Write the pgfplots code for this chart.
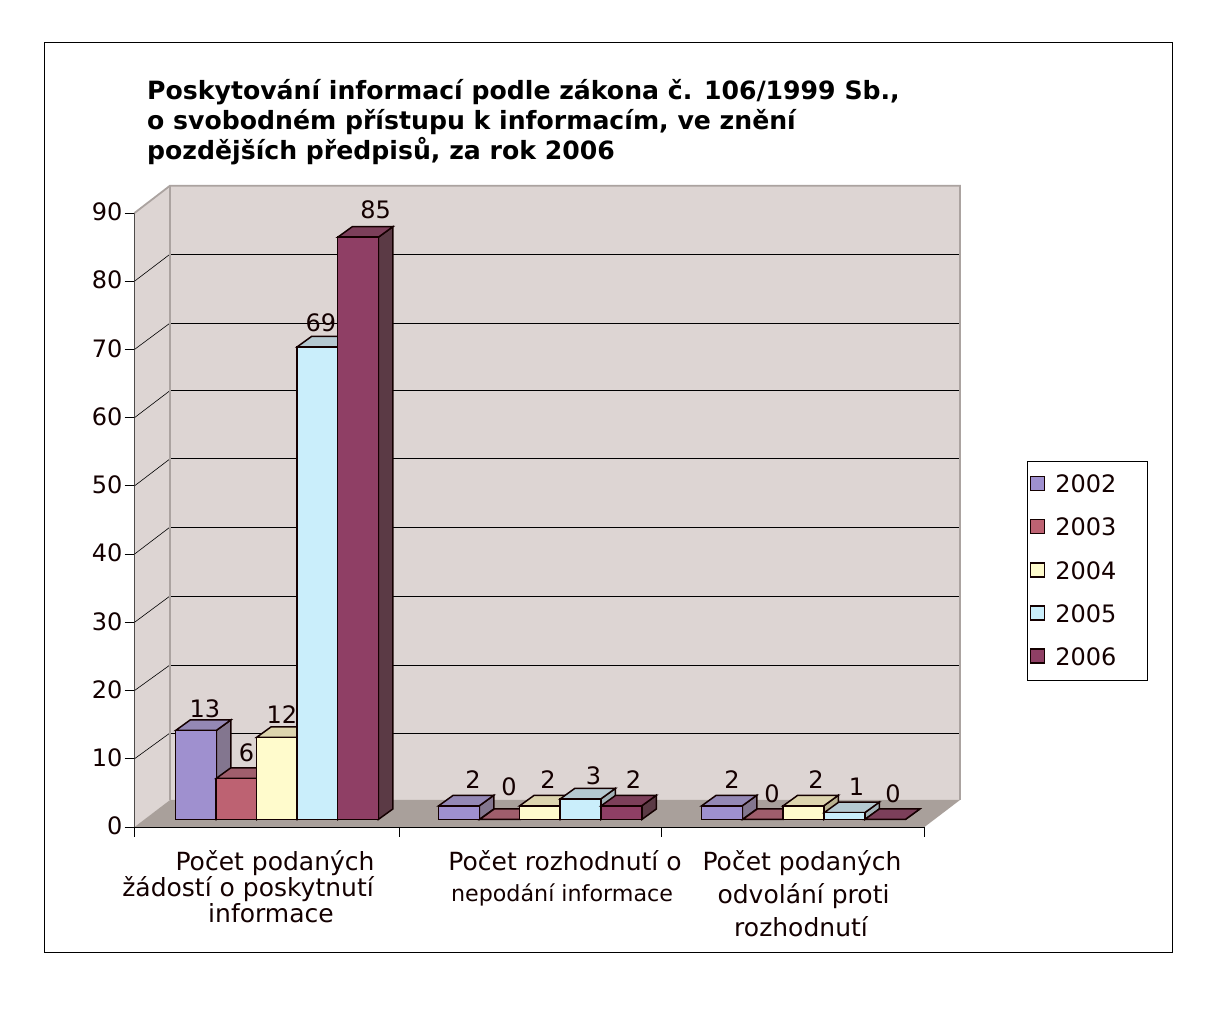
\documentclass[border=0pt]{standalone}
\usepackage{pgfplots}
\usepackage{fontspec}
\pgfplotsset{compat=1.18}
\setmainfont{DejaVu Sans}
\definecolor{wall}{HTML}{DDD5D3}
\definecolor{floorc}{HTML}{A9A09B}
\definecolor{edge}{HTML}{ABA3A0}
\definecolor{af}{HTML}{9F90CF}\definecolor{at}{HTML}{9488B5}\definecolor{as}{HTML}{83768F}
\definecolor{bf}{HTML}{BD6272}\definecolor{bt}{HTML}{9F5E6C}\definecolor{bs}{HTML}{8A5260}
\definecolor{cf}{HTML}{FFFBCC}\definecolor{ct}{HTML}{DDD5AE}\definecolor{cs}{HTML}{B8B290}
\definecolor{df}{HTML}{CAEEFB}\definecolor{dt}{HTML}{B5C9D1}\definecolor{ds}{HTML}{A2B2B8}
\definecolor{ef}{HTML}{8F3F65}\definecolor{et}{HTML}{7C3F5A}\definecolor{es}{HTML}{5B3A45}
\newcommand{\fs}{\fontsize{24}{28}\selectfont}
\newcommand{\fl}{\fontsize{25}{29}\selectfont}
\newcommand{\lbl}[2]{\hbox to 0pt{\hss\kern#1pt #2\hss}}
% side and top faces of a bar: centre, value, top colour, side colour
\newcommand{\faces}[4]{%
  \pgfmathsetmacro{\xa}{#1-20.3}\pgfmathsetmacro{\xb}{#1+20.3}%
  \pgfmathsetmacro{\xc}{\xa+14.5}\pgfmathsetmacro{\xd}{\xb+14.5}%
  \pgfmathsetmacro{\yt}{#2+1.533}%
  \addplot[forget plot,barline,fill=#4] coordinates {(\xb,0)(\xd,1.533)(\xd,\yt)(\xb,#2)} -- cycle;
  \addplot[forget plot,barline,fill=#3] coordinates {(\xa,#2)(\xc,\yt)(\xd,\yt)(\xb,#2)} -- cycle;
}
\pgfplotsset{
  /pgf/number format/assume math mode=true,
  barline/.style={draw=black!92!red,line width=1.5pt,line join=miter},
  front/.style={ybar,bar width=40.6pt,bar shift=0pt,barline,fill=#1,
    nodes near coords,
    visualization depends on={\thisrow{dx} \as \dx},
    visualization depends on={\thisrow{dy} \as \dy},
    every node near coord/.append style={font=\fs,inner sep=0pt,anchor=base,text=black!92!red,
      xshift=\dx pt,yshift=\dy pt}},
}
\begin{document}
\begin{tikzpicture}[x=1pt,y=1pt]
\path (0,0) rectangle (1229,1014);
\fill[white] (0,0) rectangle (1229,1014);
\draw[black,line width=0.9pt] (44.5,61.5) rectangle (1172.5,971.5);
\node[anchor=base west,inner sep=0pt,align=left,font=\fontsize{25.15}{30}\selectfont\bfseries] at (147,854)
 {Poskytování informací podle zákona č. 106/1999 Sb.,\\ o svobodném přístupu k informacím, ve znění\\ pozdějších předpisů, za rok 2006};
\begin{axis}[
  at={(134.5pt,187pt)},anchor=south west,scale only axis,width=790pt,height=614pt,
  xmin=134.5,xmax=924.5,ymin=0,ymax=90,clip=false,
  axis y line*=left,axis x line*=bottom,
  axis line style={black,line width=0.9pt,-},
  tick style={black,line width=0.9pt},
  tick align=outside,
  major tick length=10pt,
  ytick={0,10,...,90},
  xtick={134.5,399.3,661.6,924.5},xticklabels={},
  tick label style={font=\fs},
  yticklabel style={xshift=1.5pt,yshift=1pt,text=black!92!red},
  extra x ticks={271,562,802},
  extra x tick style={major tick length=0pt,tick style={draw=none},
    tick label style={font=\fl,align=center,text=black!92!red,yshift=-20pt}},
  extra x tick labels={
    {\lbl{8}{Počet podaných}\\[-3pt]\lbl{-46}{žádostí o poskytnutí}\\[-3pt]\lbl{0}{informace}},
    {\lbl{6}{Počet rozhodnutí o}\\[2pt]\lbl{0}{\fontsize{22.2}{27}\selectfont nepodání informace}},
    {\lbl{0}{Počet podaných}\\[4pt]\lbl{3}{odvolání proti}\\[4pt]\lbl{-2}{rozhodnutí}}},
]
\addplot[fill=wall,draw=none] coordinates {(134.5,0)(134.5,90)(170,94)(170,3.96)} -- cycle;
\addplot[fill=wall,draw=none] coordinates {(170,3.96)(170,94)(960,94)(960,3.96)} -- cycle;
\addplot[fill=floorc,draw=none] coordinates {(134.5,0)(170,3.96)(960,3.96)(924.5,0)} -- cycle;
\addplot[black,line width=0.8pt] coordinates {(170,13.78)(960,13.78)};
\addplot[black,line width=0.8pt] coordinates {(170,23.75)(960,23.75)};
\addplot[black,line width=0.8pt] coordinates {(170,33.86)(960,33.86)};
\addplot[black,line width=0.8pt] coordinates {(170,43.96)(960,43.96)};
\addplot[black,line width=0.8pt] coordinates {(170,53.96)(960,53.96)};
\addplot[black,line width=0.8pt] coordinates {(170,63.96)(960,63.96)};
\addplot[black,line width=0.8pt] coordinates {(170,73.86)(960,73.86)};
\addplot[black,line width=0.8pt] coordinates {(170,83.96)(960,83.96)};
\addplot[black,line width=0.6pt] coordinates {(134.5,10)(170,13.78)};
\addplot[black,line width=0.6pt] coordinates {(134.5,20)(170,23.75)};
\addplot[black,line width=0.6pt] coordinates {(134.5,30)(170,33.86)};
\addplot[black,line width=0.6pt] coordinates {(134.5,40)(170,43.96)};
\addplot[black,line width=0.6pt] coordinates {(134.5,50)(170,53.96)};
\addplot[black,line width=0.6pt] coordinates {(134.5,60)(170,63.96)};
\addplot[black,line width=0.6pt] coordinates {(134.5,70)(170,73.86)};
\addplot[black,line width=0.6pt] coordinates {(134.5,80)(170,83.96)};
\addplot[edge,line width=1.8pt] coordinates {(134.5,90)(170,94)(960,94)(960,3.96)};
\addplot[edge,line width=1.8pt] coordinates {(170,3.96)(170,94)};
\end{axis}
\begin{axis}[
  at={(134.5pt,194.5pt)},anchor=south west,scale only axis,width=790pt,height=616.5pt,
  xmin=134.5,xmax=924.5,ymin=0,ymax=90,clip=false,hide axis,
  legend style={at={(axis cs:1026.5,52.4)},anchor=north west,draw=black,line width=0.9pt,
    font=\fs,text=black!92!red,inner xsep=3pt,inner ysep=14pt,row sep=23.8pt,
    nodes={inner sep=0pt,anchor=west}},
  legend cell align=left,
  legend image code/.code={\draw[#1,line width=1.3pt] (0pt,-6pt) rectangle (14pt,8pt);\path (24pt,0pt);},
]
\faces{196}{13}{at}{as}\faces{459}{2}{at}{as}\faces{722}{2}{at}{as}
\addplot[front=af] table[x=x,y=y] {
x y dx dy
196 13 9 13
459 2 14 17
722 2 10 17
};
\addlegendentry{\makebox[89pt][l]{2002}}
\faces{236.5}{6}{bt}{bs}\faces{500}{0}{bt}{bs}\faces{763}{0}{bt}{bs}
\addplot[front=bf] table[x=x,y=y] {
x y dx dy
236.5 6 10 17
500 0 9 24
763 0 9 17
};
\addlegendentry{\makebox[89pt][l]{2003}}
\faces{277}{12}{ct}{cs}\faces{540}{2}{ct}{cs}\faces{803.5}{2}{ct}{cs}
\addplot[front=cf] table[x=x,y=y] {
x y dx dy
277 12 5 14
540 2 8 17
803.5 2 12.5 17
};
\addlegendentry{\makebox[89pt][l]{2004}}
\faces{317.5}{69}{dt}{ds}\faces{580.5}{3}{dt}{ds}\faces{844.5}{1}{dt}{ds}
\addplot[front=df] table[x=x,y=y] {
x y dx dy
317.5 69 3.5 15.6
580.5 3 13 14
844.5 1 12 17
};
\addlegendentry{\makebox[89pt][l]{2005}}
\faces{358}{85}{et}{es}\faces{621.5}{2}{et}{es}\faces{885}{0}{et}{es}
\addplot[front=ef] table[x=x,y=y] {
x y dx dy
358 85 17.7 19
621.5 2 12 17
885 0 8 17
};
\addlegendentry{\makebox[89pt][l]{2006}\rule[-3pt]{0pt}{3pt}}
\end{axis}
\end{tikzpicture}
\end{document}
